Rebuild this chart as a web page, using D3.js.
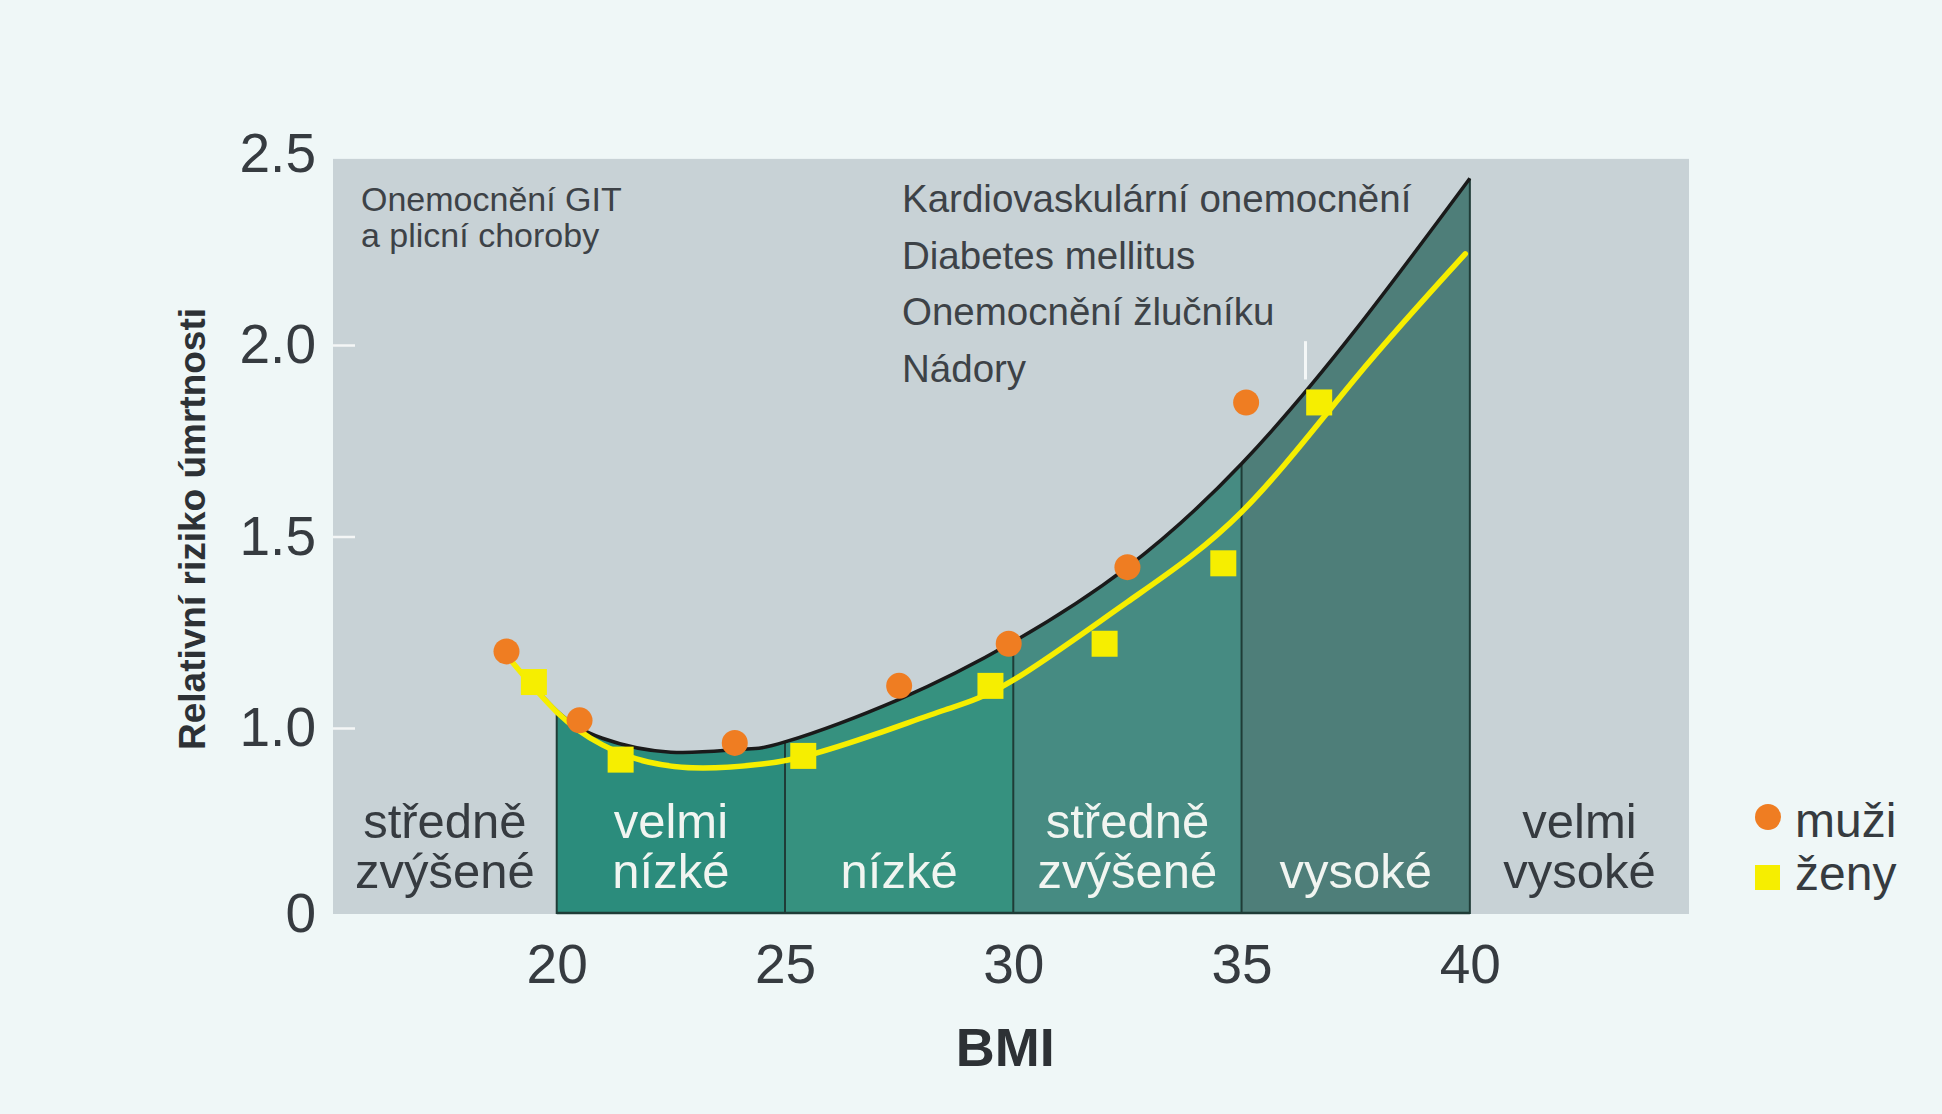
<!DOCTYPE html>
<html><head><meta charset="utf-8">
<script src="https://cdn.jsdelivr.net/npm/d3@7"></script>
<style>
html,body{margin:0;padding:0;background:#eff7f7;}
svg{display:block;}
text{font-family:"Liberation Sans",Arial,Helvetica,sans-serif;}
</style></head><body>
<svg id="chart" width="1942" height="1114"></svg>
<script>
// ---------- data ----------
const yTicks = [0, 1.0, 1.5, 2.0, 2.5];
const yTickLabels = ["0", "1.0", "1.5", "2.0", "2.5"];
const xTicks = [20, 25, 30, 35, 40];
const xTitle = "BMI";
const yTitle = "Relativní riziko úmrtnosti";

// BMI bands (risk categories)
const bandStart = [15.1, 20, 25, 30, 35, 40];
const bandEnd   = [20, 25, 30, 35, 40, 44.8];
const bandLabels = [["středně", "zvýšené"], ["velmi", "nízké"], ["nízké"], ["středně", "zvýšené"], ["vysoké"], ["velmi", "vysoké"]];
const bandFills = ["none", "#2b8c7c", "#36917f", "#468b82", "#4e7e79", "none"];
const bandText = ["#363b40", "#f1f5f1", "#f1f5f1", "#f1f5f1", "#f1f5f1", "#363b40"];

// fitted curve, men (black line, top of the teal area)
const muziCurveBMI = [18.9, 20.0, 21.0, 22.5, 24.0, 25.0, 27.5, 30.0, 32.5, 35.0, 37.5, 40.0];
const muziCurveRR  = [1.19, 1.045, 0.945, 0.87, 0.885, 0.925, 1.075, 1.225, 1.42, 1.69, 2.04, 2.435];

// fitted curve, women (yellow line)
const zenyCurveBMI = [18.9, 20.0, 21.0, 22.0, 23.2, 24.5, 25.5, 27.0, 28.5, 30.0, 32.5, 35.0, 37.5, 39.9];
const zenyCurveRR  = [1.19, 1.042, 0.909, 0.817, 0.785, 0.806, 0.852, 0.968, 1.047, 1.125, 1.329, 1.564, 1.914, 2.238];

// observed points
const muziBMI = [18.9, 20.5, 23.9, 27.5, 29.9, 32.5, 35.1];
const muziRR  = [1.20, 1.02, 0.92, 1.11, 1.22, 1.42, 1.85];
const zenyBMI = [19.5, 21.4, 25.4, 29.5, 32.0, 34.6, 36.7];
const zenyRR  = [1.12, 0.83, 0.85, 1.11, 1.22, 1.43, 1.85];

// small white mark above the last women's point
const markBMI = [36.4];
const markFrom = [1.91];
const markTo = [2.01];

const diseasesLeft = ["Onemocnění GIT", "a plicní choroby"];
const diseasesRight = ["Kardiovaskulární onemocnění", "Diabetes mellitus", "Onemocnění žlučníku", "Nádory"];
const legendLabels = ["muži", "ženy"];

// ---------- scales ----------
const svg = d3.select("#chart");
const x = d3.scaleLinear().domain([15.1, 44.8]).range([333, 1689]);
// broken axis: 0 .. 1.0 compressed
const y = d3.scaleLinear().domain([0, 1, 2.5]).range([914, 728, 153.5]);
const panelTop = 2.486;

const C = {
  grey: "#c8d2d6", dark: "#363b40", divider: "#1f3c37",
  black: "#1a1a1a", yellow: "#f6ee00", orange: "#ef7d22"
};

// grey panel
svg.append("rect")
  .attr("x", x(x.domain()[0])).attr("y", y(panelTop))
  .attr("width", x(x.domain()[1]) - x(x.domain()[0]))
  .attr("height", y(0) - y(panelTop))
  .attr("fill", C.grey);

// teal bands under the men's curve
const muziCurve = muziCurveBMI.map((b, i) => [b, muziCurveRR[i]]);
const zenyCurve = zenyCurveBMI.map((b, i) => [b, zenyCurveRR[i]]);
const curveType = d3.curveNatural;
const area = d3.area().x(d => x(d[0])).y0(y(0)).y1(d => y(d[1])).curve(curveType);
const line = d3.line().x(d => x(d[0])).y(d => y(d[1])).curve(curveType);

const defs = svg.append("defs");
bandStart.forEach((s, i) => {
  if (bandFills[i] === "none") return;
  defs.append("clipPath").attr("id", "band" + i)
    .append("rect").attr("x", x(s)).attr("y", 0)
    .attr("width", x(bandEnd[i]) - x(s)).attr("height", y(0) + 1);
  svg.append("path").datum(muziCurve)
    .attr("d", area).attr("fill", bandFills[i])
    .attr("clip-path", `url(#band${i})`);
});

// divider lines at band edges
const curveAt = b => muziCurveRR[muziCurveBMI.indexOf(b)];
xTicks.forEach(b => {
  svg.append("line")
    .attr("x1", x(b)).attr("x2", x(b))
    .attr("y1", y(0)).attr("y2", y(curveAt(b)))
    .attr("stroke", C.divider).attr("stroke-width", 2);
});
svg.append("line")
  .attr("x1", x(20)).attr("x2", x(40)).attr("y1", y(0) - 1).attr("y2", y(0) - 1)
  .attr("stroke", C.divider).attr("stroke-width", 2.5);

// y axis
const yAxis = d3.axisLeft(y).tickValues(yTicks)
  .tickFormat((d, i) => yTickLabels[i])
  .tickSizeInner(-22).tickSizeOuter(0).tickPadding(17);
const gy = svg.append("g").attr("transform", `translate(${x(x.domain()[0])},0)`).call(yAxis);
gy.select(".domain").remove();
gy.selectAll(".tick line").attr("stroke", "#f4f6f6").attr("stroke-width", 2.5)
  .filter(d => d === 0 || d === 2.5).remove();
gy.selectAll(".tick text").attr("fill", C.dark).attr("font-size", 55)
  .attr("font-family", '"Liberation Sans",Arial,sans-serif');

// x axis
const xAxis = d3.axisBottom(x).tickValues(xTicks).tickFormat(d3.format("d"))
  .tickSize(0).tickPadding(30);
const gx = svg.append("g").attr("transform", `translate(0,${y(0)})`).call(xAxis);
gx.select(".domain").remove();
gx.selectAll(".tick text").attr("fill", C.dark).attr("font-size", 55)
  .attr("font-family", '"Liberation Sans",Arial,sans-serif');

// axis titles
svg.append("text").attr("x", x(30) - 8).attr("y", 1066)
  .attr("text-anchor", "middle").attr("font-size", 54).attr("font-weight", "bold")
  .attr("fill", "#2d3135").text(xTitle);
svg.append("text").attr("transform", `translate(205,529) rotate(-90)`)
  .attr("text-anchor", "middle").attr("font-size", 37).attr("font-weight", "bold")
  .attr("fill", "#2d3135").text(yTitle);

// disease annotations
diseasesLeft.forEach((t, i) => {
  svg.append("text").attr("x", 361).attr("y", 211 + i * 36)
    .attr("font-size", 34).attr("fill", "#3d4247").text(t);
});
diseasesRight.forEach((t, i) => {
  svg.append("text").attr("x", 902).attr("y", 212 + i * 56.7)
    .attr("font-size", 38.5).attr("fill", "#3d4247").text(t);
});

// band labels
bandLabels.forEach((lines, i) => {
  const cx = (x(bandStart[i]) + x(bandEnd[i])) / 2;
  lines.forEach((t, j) => {
    const base = y(0) - 26 - (lines.length - 1 - j) * 50;
    svg.append("text").attr("x", cx).attr("y", base)
      .attr("text-anchor", "middle").attr("font-size", 49)
      .attr("fill", bandText[i]).text(t);
  });
});

// white mark
markBMI.forEach((b, i) => {
  svg.append("line").attr("x1", x(b)).attr("x2", x(b))
    .attr("y1", y(markFrom[i])).attr("y2", y(markTo[i]))
    .attr("stroke", "#f4f7f7").attr("stroke-width", 3);
});

// curves
svg.append("path").datum(muziCurve).attr("d", line)
  .attr("fill", "none").attr("stroke", C.black).attr("stroke-width", 3.5);
svg.append("path").datum(zenyCurve).attr("d", line)
  .attr("fill", "none").attr("stroke", C.yellow).attr("stroke-width", 5.5)
  .attr("stroke-linecap", "round");

// points
svg.selectAll(".muzi").data(muziBMI).enter().append("circle")
  .attr("cx", (d) => x(d)).attr("cy", (d, i) => y(muziRR[i])).attr("r", 13)
  .attr("fill", C.orange);
const sq = 26;
svg.selectAll(".zeny").data(zenyBMI).enter().append("rect")
  .attr("x", d => x(d) - sq / 2).attr("y", (d, i) => y(zenyRR[i]) - sq / 2)
  .attr("width", sq).attr("height", sq).attr("fill", C.yellow);

// legend
svg.append("circle").attr("cx", 1768).attr("cy", 817).attr("r", 13).attr("fill", C.orange);
svg.append("rect").attr("x", 1755).attr("y", 865).attr("width", 25).attr("height", 25).attr("fill", C.yellow);
legendLabels.forEach((t, i) => {
  svg.append("text").attr("x", 1795).attr("y", 837 + i * 53)
    .attr("font-size", 48).attr("fill", C.dark).text(t);
});
</script>
</body></html>
